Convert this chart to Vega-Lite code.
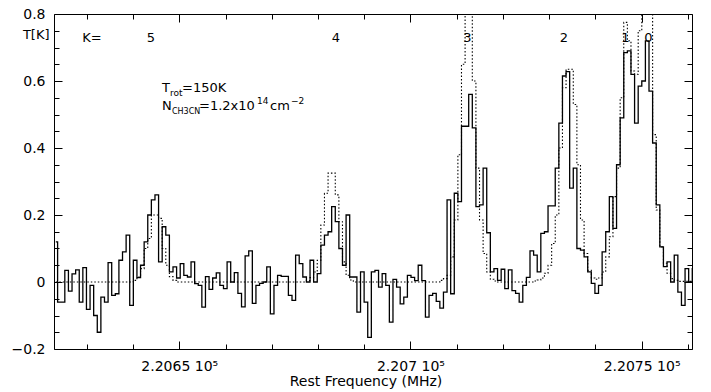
{
  "$schema": "https://vega.github.io/schema/vega-lite/v6.json",
  "width": 638,
  "height": 335,
  "autosize": {"type": "none"},
  "padding": {"left": 54, "top": 14, "right": 19, "bottom": 43},
  "background": "white",
  "config": {
    "view": {"stroke": null},
    "axis": {"grid": false, "domainColor": "#000", "labelColor": "#000", "titleColor": "#000", "labelFont": "DejaVu Sans", "titleFont": "DejaVu Sans", "labelFontSize": 14, "titleFontWeight": "normal", "domainWidth": 1, "labelFlush": false, "labelOverlap": false, "labelBound": false},
    "text": {"font": "DejaVu Sans", "color": "#000"}
  },
  "datasets": {
    "spec": [
      {"f": 220623.29, "obs": 0.12, "model": 0},
      {"f": 220624.07, "obs": -0.06, "model": 0},
      {"f": 220624.85, "obs": -0.06, "model": 0},
      {"f": 220625.63, "obs": 0.035, "model": 0},
      {"f": 220626.41, "obs": -0.027, "model": 0},
      {"f": 220627.19, "obs": 0.024, "model": 0},
      {"f": 220627.97, "obs": 0.036, "model": 0},
      {"f": 220628.75, "obs": -0.06, "model": 0},
      {"f": 220629.53, "obs": 0.043, "model": 0},
      {"f": 220630.31, "obs": -0.082, "model": 0},
      {"f": 220631.09, "obs": -0.01, "model": 0},
      {"f": 220631.87, "obs": -0.1, "model": 0},
      {"f": 220632.65, "obs": -0.15, "model": 0},
      {"f": 220633.43, "obs": -0.045, "model": 0},
      {"f": 220634.21, "obs": -0.06, "model": 0},
      {"f": 220634.99, "obs": 0.058, "model": 0},
      {"f": 220635.77, "obs": -0.04, "model": 0},
      {"f": 220636.55, "obs": -0.035, "model": 0},
      {"f": 220637.33, "obs": 0.065, "model": 0},
      {"f": 220638.11, "obs": 0.09, "model": 0},
      {"f": 220638.89, "obs": 0.14, "model": 0},
      {"f": 220639.67, "obs": -0.07, "model": 0},
      {"f": 220640.45, "obs": 0.065, "model": 0.005},
      {"f": 220641.23, "obs": 0.013, "model": 0.015},
      {"f": 220642.01, "obs": 0.05, "model": 0.04},
      {"f": 220642.79, "obs": 0.12, "model": 0.1},
      {"f": 220643.57, "obs": 0.2, "model": 0.13},
      {"f": 220644.35, "obs": 0.245, "model": 0.2},
      {"f": 220645.13, "obs": 0.26, "model": 0.2},
      {"f": 220645.91, "obs": 0.06, "model": 0.19},
      {"f": 220646.69, "obs": 0.165, "model": 0.1},
      {"f": 220647.47, "obs": 0.14, "model": 0.05},
      {"f": 220648.25, "obs": 0.03, "model": 0.016},
      {"f": 220649.03, "obs": 0.045, "model": 0.005},
      {"f": 220649.81, "obs": 0.012, "model": 0},
      {"f": 220650.59, "obs": 0.055, "model": 0},
      {"f": 220651.37, "obs": 0.02, "model": 0},
      {"f": 220652.15, "obs": 0.015, "model": 0},
      {"f": 220652.93, "obs": 0.06, "model": 0},
      {"f": 220653.71, "obs": -0.005, "model": 0},
      {"f": 220654.49, "obs": -0.01, "model": 0},
      {"f": 220655.27, "obs": -0.075, "model": 0},
      {"f": 220656.05, "obs": 0.016, "model": 0},
      {"f": 220656.83, "obs": -0.022, "model": 0},
      {"f": 220657.61, "obs": 0.012, "model": 0},
      {"f": 220658.39, "obs": 0.027, "model": 0},
      {"f": 220659.17, "obs": -0.01, "model": 0},
      {"f": 220659.95, "obs": -0.02, "model": 0},
      {"f": 220660.73, "obs": 0.06, "model": 0},
      {"f": 220661.51, "obs": 0.0, "model": 0},
      {"f": 220662.29, "obs": 0.028, "model": 0},
      {"f": 220663.07, "obs": -0.034, "model": 0},
      {"f": 220663.85, "obs": -0.074, "model": 0},
      {"f": 220664.63, "obs": 0.078, "model": 0},
      {"f": 220665.41, "obs": 0.093, "model": 0},
      {"f": 220666.19, "obs": -0.064, "model": 0},
      {"f": 220666.97, "obs": -0.01, "model": 0},
      {"f": 220667.75, "obs": -0.004, "model": 0},
      {"f": 220668.53, "obs": 0.0, "model": 0},
      {"f": 220669.31, "obs": 0.045, "model": 0},
      {"f": 220670.09, "obs": -0.095, "model": 0},
      {"f": 220670.87, "obs": -0.01, "model": 0},
      {"f": 220671.65, "obs": 0.02, "model": 0},
      {"f": 220672.43, "obs": 0.017, "model": 0},
      {"f": 220673.21, "obs": 0.017, "model": 0},
      {"f": 220673.99, "obs": -0.04, "model": 0},
      {"f": 220674.77, "obs": -0.055, "model": 0},
      {"f": 220675.55, "obs": 0.08, "model": 0},
      {"f": 220676.33, "obs": 0.055, "model": 0},
      {"f": 220677.11, "obs": 0.015, "model": 0},
      {"f": 220677.89, "obs": 0.0, "model": 0.004},
      {"f": 220678.67, "obs": 0.065, "model": 0.013},
      {"f": 220679.45, "obs": 0.0, "model": 0.03},
      {"f": 220680.23, "obs": 0.025, "model": 0.065},
      {"f": 220681.01, "obs": 0.11, "model": 0.17},
      {"f": 220681.79, "obs": 0.14, "model": 0.265},
      {"f": 220682.57, "obs": 0.15, "model": 0.325},
      {"f": 220683.35, "obs": 0.225, "model": 0.325},
      {"f": 220684.13, "obs": 0.18, "model": 0.26},
      {"f": 220684.91, "obs": 0.1, "model": 0.18},
      {"f": 220685.69, "obs": 0.05, "model": 0.06},
      {"f": 220686.47, "obs": 0.2, "model": 0.02},
      {"f": 220687.25, "obs": 0.015, "model": 0.006},
      {"f": 220688.03, "obs": 0.015, "model": 0},
      {"f": 220688.81, "obs": -0.09, "model": 0},
      {"f": 220689.59, "obs": 0.03, "model": 0},
      {"f": 220690.37, "obs": -0.06, "model": 0},
      {"f": 220691.15, "obs": -0.165, "model": 0},
      {"f": 220691.93, "obs": 0.03, "model": 0},
      {"f": 220692.71, "obs": 0.035, "model": 0},
      {"f": 220693.49, "obs": -0.015, "model": 0},
      {"f": 220694.27, "obs": 0.025, "model": 0},
      {"f": 220695.05, "obs": -0.01, "model": 0},
      {"f": 220695.83, "obs": -0.12, "model": 0},
      {"f": 220696.61, "obs": 0.008, "model": 0},
      {"f": 220697.39, "obs": -0.015, "model": 0},
      {"f": 220698.17, "obs": -0.065, "model": 0},
      {"f": 220698.95, "obs": -0.045, "model": 0},
      {"f": 220699.73, "obs": 0.02, "model": 0},
      {"f": 220700.51, "obs": 0.014, "model": 0},
      {"f": 220701.29, "obs": 0.004, "model": 0},
      {"f": 220702.07, "obs": 0.05, "model": 0},
      {"f": 220702.85, "obs": 0.004, "model": 0},
      {"f": 220703.63, "obs": -0.105, "model": 0},
      {"f": 220704.41, "obs": -0.04, "model": 0},
      {"f": 220705.19, "obs": -0.034, "model": 0},
      {"f": 220705.97, "obs": -0.058, "model": 0},
      {"f": 220706.75, "obs": -0.078, "model": 0.005},
      {"f": 220707.53, "obs": -0.03, "model": 0.01},
      {"f": 220708.31, "obs": 0.245, "model": 0.02},
      {"f": 220709.09, "obs": -0.035, "model": 0.075},
      {"f": 220709.87, "obs": 0.265, "model": 0.185},
      {"f": 220710.65, "obs": 0.24, "model": 0.38},
      {"f": 220711.43, "obs": 0.465, "model": 0.65},
      {"f": 220712.21, "obs": 0.465, "model": 0.95},
      {"f": 220712.99, "obs": 0.56, "model": 1.0},
      {"f": 220713.77, "obs": 0.46, "model": 0.6},
      {"f": 220714.55, "obs": 0.225, "model": 0.34},
      {"f": 220715.33, "obs": 0.23, "model": 0.185},
      {"f": 220716.11, "obs": 0.34, "model": 0.085},
      {"f": 220716.89, "obs": 0.147, "model": 0.03},
      {"f": 220717.67, "obs": 0.03, "model": 0.008},
      {"f": 220718.45, "obs": 0.04, "model": 0.003},
      {"f": 220719.23, "obs": 0.005, "model": 0},
      {"f": 220720.01, "obs": 0.038, "model": 0},
      {"f": 220720.79, "obs": -0.02, "model": 0},
      {"f": 220721.57, "obs": 0.036, "model": 0},
      {"f": 220722.35, "obs": -0.026, "model": 0},
      {"f": 220723.13, "obs": -0.034, "model": 0},
      {"f": 220723.91, "obs": -0.06, "model": 0},
      {"f": 220724.69, "obs": -0.01, "model": 0},
      {"f": 220725.47, "obs": 0.014, "model": 0},
      {"f": 220726.25, "obs": 0.093, "model": 0},
      {"f": 220727.03, "obs": 0.08, "model": 0.003},
      {"f": 220727.81, "obs": 0.03, "model": 0.006},
      {"f": 220728.59, "obs": 0.145, "model": 0.012},
      {"f": 220729.37, "obs": 0.15, "model": 0.026},
      {"f": 220730.15, "obs": 0.227, "model": 0.05},
      {"f": 220730.93, "obs": 0.227, "model": 0.115},
      {"f": 220731.71, "obs": 0.34, "model": 0.2},
      {"f": 220732.49, "obs": 0.474, "model": 0.4},
      {"f": 220733.27, "obs": 0.615, "model": 0.58},
      {"f": 220734.05, "obs": 0.628, "model": 0.635},
      {"f": 220734.83, "obs": 0.28, "model": 0.635},
      {"f": 220735.61, "obs": 0.34, "model": 0.53},
      {"f": 220736.39, "obs": 0.1, "model": 0.35},
      {"f": 220737.17, "obs": 0.095, "model": 0.185},
      {"f": 220737.95, "obs": 0.075, "model": 0.085},
      {"f": 220738.73, "obs": 0.03, "model": 0.035},
      {"f": 220739.51, "obs": -0.004, "model": 0.012},
      {"f": 220740.29, "obs": -0.034, "model": 0.008},
      {"f": 220741.07, "obs": -0.01, "model": 0.012},
      {"f": 220741.85, "obs": 0.09, "model": 0.03},
      {"f": 220742.63, "obs": 0.15, "model": 0.075},
      {"f": 220743.41, "obs": 0.255, "model": 0.135},
      {"f": 220744.19, "obs": 0.16, "model": 0.255},
      {"f": 220744.97, "obs": 0.35, "model": 0.34},
      {"f": 220745.75, "obs": 0.49, "model": 0.55},
      {"f": 220746.53, "obs": 0.685, "model": 0.775},
      {"f": 220747.31, "obs": 0.69, "model": 0.72},
      {"f": 220748.09, "obs": 0.62, "model": 0.63},
      {"f": 220748.87, "obs": 0.474, "model": 0.62},
      {"f": 220749.65, "obs": 0.585, "model": 0.75},
      {"f": 220750.43, "obs": 0.6, "model": 0.95},
      {"f": 220751.21, "obs": 0.72, "model": 1.0},
      {"f": 220751.99, "obs": 0.57, "model": 0.85},
      {"f": 220752.77, "obs": 0.415, "model": 0.44},
      {"f": 220753.55, "obs": 0.23, "model": 0.215},
      {"f": 220754.33, "obs": 0.105, "model": 0.105},
      {"f": 220755.11, "obs": 0.046, "model": 0.056},
      {"f": 220755.89, "obs": 0.06, "model": 0.026},
      {"f": 220756.67, "obs": 0.0, "model": 0.01},
      {"f": 220757.45, "obs": 0.08, "model": 0.005},
      {"f": 220758.23, "obs": -0.03, "model": 0.002},
      {"f": 220759.01, "obs": -0.07, "model": 0.002},
      {"f": 220759.79, "obs": 0.04, "model": 0.002},
      {"f": 220760.57, "obs": 0.0, "model": 0.002},
      {"f": 220761.35, "obs": 0.04, "model": 0.002}
    ]
  },
  "resolve": {"axis": {"x": "independent", "y": "independent"}},
  "layer": [
    {
      "data": {"name": "spec"},
      "mark": {"type": "line", "interpolate": "step", "color": "#000", "strokeWidth": 1.3, "clip": true},
      "encoding": {
        "x": {"field": "f", "type": "quantitative", "scale": {"domain": [220622.9, 220760.9], "nice": false, "zero": false},
          "axis": {"orient": "bottom", "values": [220650, 220700, 220750], "ticks": true, "tickSize": -8, "tickColor": "#000", "tickWidth": 1, "labelPadding": 18, "labelExpr": "format(datum.value/100000, '.5~r') + ' 10⁵'", "domain": true, "title": "Rest Frequency (MHz)", "titleFontSize": 14, "titleX": 311.5, "titleY": 36, "titleAlign": "center", "titleBaseline": "alphabetic"}},
        "y": {"field": "obs", "type": "quantitative", "scale": {"domain": [-0.2, 0.8], "nice": false, "zero": false},
          "axis": {"orient": "left", "values": [-0.2, 0, 0.2, 0.4, 0.6, 0.8], "ticks": true, "tickSize": -8, "tickColor": "#000", "tickWidth": 1, "labelPadding": 17, "format": "~g", "domain": true, "title": "T[K]", "titleAngle": 0, "titleX": -5, "titleY": 24.5, "titleAlign": "right", "titleBaseline": "alphabetic", "titleFontSize": 13}}
      }
    },
    {
      "data": {"name": "spec"},
      "mark": {"type": "line", "interpolate": "step", "color": "#000", "strokeWidth": 1.1, "strokeDash": [1.5, 2], "clip": true},
      "encoding": {
        "x": {"field": "f", "type": "quantitative", "scale": {"domain": [220622.9, 220760.9], "nice": false, "zero": false},
          "axis": {"orient": "bottom", "values": [220630, 220640, 220660, 220670, 220680, 220690, 220710, 220720, 220730, 220740, 220760], "ticks": true, "tickSize": -5, "tickColor": "#000", "tickWidth": 1, "labels": false, "domain": false, "title": null}},
        "y": {"field": "model", "type": "quantitative", "scale": {"domain": [-0.2, 0.8], "nice": false, "zero": false},
          "axis": {"orient": "left", "values": [-0.15, -0.1, -0.05, 0.05, 0.1, 0.15, 0.25, 0.3, 0.35, 0.45, 0.5, 0.55, 0.65, 0.7, 0.75], "ticks": true, "tickSize": -5, "tickColor": "#000", "tickWidth": 1, "labels": false, "domain": false, "title": null}}
      }
    },
    {
      "data": {"values": [
        {"f": 220631.12, "t": 0.716, "s": "K="},
        {"f": 220643.88, "t": 0.716, "s": "5"},
        {"f": 220683.89, "t": 0.716, "s": "4"},
        {"f": 220712.33, "t": 0.716, "s": "3"},
        {"f": 220733.2, "t": 0.716, "s": "2"},
        {"f": 220746.5, "t": 0.716, "s": "1"},
        {"f": 220751.47, "t": 0.716, "s": "0"}
      ]},
      "mark": {"type": "text", "fontSize": 13, "align": "center", "baseline": "alphabetic"},
      "encoding": {
        "x": {"field": "f", "type": "quantitative", "scale": {"domain": [220622.9, 220760.9], "nice": false, "zero": false},
          "axis": {"orient": "top", "values": [220650, 220700, 220750], "ticks": true, "tickSize": -8, "tickColor": "#000", "tickWidth": 1, "labels": false, "domain": true, "title": null}},
        "y": {"field": "t", "type": "quantitative", "scale": {"domain": [-0.2, 0.8], "nice": false, "zero": false},
          "axis": {"orient": "right", "values": [-0.2, 0, 0.2, 0.4, 0.6, 0.8], "ticks": true, "tickSize": -8, "tickColor": "#000", "tickWidth": 1, "labels": false, "domain": true, "title": null}},
        "text": {"field": "s"}
      }
    },
    {
      "data": {"values": [
        {"f": 220646.26, "t": 0.567, "s": "T"},
        {"f": 220646.26, "t": 0.513, "s": "N"}
      ]},
      "mark": {"type": "text", "fontSize": 13, "align": "left", "baseline": "alphabetic"},
      "encoding": {
        "x": {"field": "f", "type": "quantitative", "scale": {"domain": [220622.9, 220760.9], "nice": false, "zero": false},
          "axis": {"orient": "top", "values": [220630, 220640, 220660, 220670, 220680, 220690, 220710, 220720, 220730, 220740, 220760], "ticks": true, "tickSize": -5, "tickColor": "#000", "tickWidth": 1, "labels": false, "domain": false, "title": null}},
        "y": {"field": "t", "type": "quantitative", "scale": {"domain": [-0.2, 0.8], "nice": false, "zero": false},
          "axis": {"orient": "right", "values": [-0.15, -0.1, -0.05, 0.05, 0.1, 0.15, 0.25, 0.3, 0.35, 0.45, 0.5, 0.55, 0.65, 0.7, 0.75], "ticks": true, "tickSize": -5, "tickColor": "#000", "tickWidth": 1, "labels": false, "domain": false, "title": null}},
        "text": {"field": "s"}
      }
    },
    {
      "data": {"values": [{"f": 220646.26, "t": 0.567, "s": "rot"}]},
      "mark": {"type": "text", "fontSize": 9, "align": "left", "baseline": "alphabetic", "dx": 8, "dy": 4},
      "encoding": {
        "x": {"field": "f", "type": "quantitative", "scale": {"domain": [220622.9, 220760.9], "nice": false, "zero": false}, "axis": null},
        "y": {"field": "t", "type": "quantitative", "scale": {"domain": [-0.2, 0.8], "nice": false, "zero": false}, "axis": null},
        "text": {"field": "s"}
      }
    },
    {
      "data": {"values": [{"f": 220646.26, "t": 0.567, "s": "=150K"}]},
      "mark": {"type": "text", "fontSize": 13, "align": "left", "baseline": "alphabetic", "dx": 20},
      "encoding": {
        "x": {"field": "f", "type": "quantitative", "scale": {"domain": [220622.9, 220760.9], "nice": false, "zero": false}, "axis": null},
        "y": {"field": "t", "type": "quantitative", "scale": {"domain": [-0.2, 0.8], "nice": false, "zero": false}, "axis": null},
        "text": {"field": "s"}
      }
    },
    {
      "data": {"values": [{"f": 220646.26, "t": 0.513, "s": "CH3CN"}]},
      "mark": {"type": "text", "fontSize": 8, "align": "left", "baseline": "alphabetic", "dx": 10, "dy": 4},
      "encoding": {
        "x": {"field": "f", "type": "quantitative", "scale": {"domain": [220622.9, 220760.9], "nice": false, "zero": false}, "axis": null},
        "y": {"field": "t", "type": "quantitative", "scale": {"domain": [-0.2, 0.8], "nice": false, "zero": false}, "axis": null},
        "text": {"field": "s"}
      }
    },
    {
      "data": {"values": [{"f": 220646.26, "t": 0.513, "s": "=1.2x10"}]},
      "mark": {"type": "text", "fontSize": 13, "align": "left", "baseline": "alphabetic", "dx": 37},
      "encoding": {
        "x": {"field": "f", "type": "quantitative", "scale": {"domain": [220622.9, 220760.9], "nice": false, "zero": false}, "axis": null},
        "y": {"field": "t", "type": "quantitative", "scale": {"domain": [-0.2, 0.8], "nice": false, "zero": false}, "axis": null},
        "text": {"field": "s"}
      }
    },
    {
      "data": {"values": [{"f": 220646.26, "t": 0.513, "s": "14"}]},
      "mark": {"type": "text", "fontSize": 9, "align": "left", "baseline": "alphabetic", "dx": 95, "dy": -6},
      "encoding": {
        "x": {"field": "f", "type": "quantitative", "scale": {"domain": [220622.9, 220760.9], "nice": false, "zero": false}, "axis": null},
        "y": {"field": "t", "type": "quantitative", "scale": {"domain": [-0.2, 0.8], "nice": false, "zero": false}, "axis": null},
        "text": {"field": "s"}
      }
    },
    {
      "data": {"values": [{"f": 220646.26, "t": 0.513, "s": "cm"}]},
      "mark": {"type": "text", "fontSize": 13, "align": "left", "baseline": "alphabetic", "dx": 108},
      "encoding": {
        "x": {"field": "f", "type": "quantitative", "scale": {"domain": [220622.9, 220760.9], "nice": false, "zero": false}, "axis": null},
        "y": {"field": "t", "type": "quantitative", "scale": {"domain": [-0.2, 0.8], "nice": false, "zero": false}, "axis": null},
        "text": {"field": "s"}
      }
    },
    {
      "data": {"values": [{"f": 220646.26, "t": 0.513, "s": "−2"}]},
      "mark": {"type": "text", "fontSize": 9, "align": "left", "baseline": "alphabetic", "dx": 129, "dy": -6},
      "encoding": {
        "x": {"field": "f", "type": "quantitative", "scale": {"domain": [220622.9, 220760.9], "nice": false, "zero": false}, "axis": null},
        "y": {"field": "t", "type": "quantitative", "scale": {"domain": [-0.2, 0.8], "nice": false, "zero": false}, "axis": null},
        "text": {"field": "s"}
      }
    }
  ]
}
